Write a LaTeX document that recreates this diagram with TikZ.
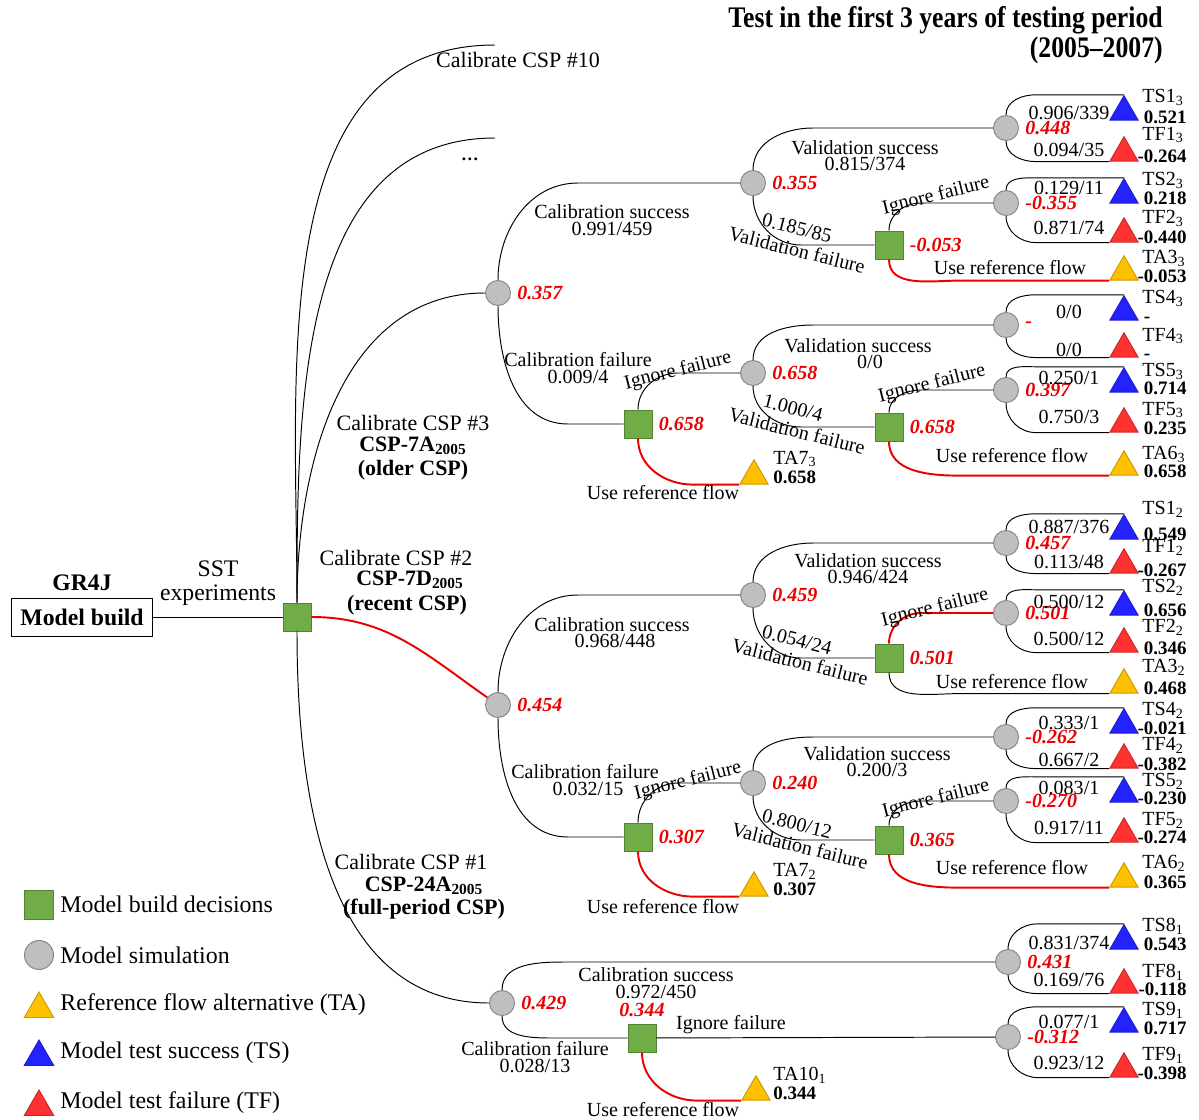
\documentclass[tikz,border=0pt]{standalone}
\usepackage{fontspec}
\setmainfont{Liberation Serif}
\usepackage{tikz}
\usetikzlibrary{positioning, calc, shapes.geometric}
\definecolor{boxgreen}{RGB}{112,173,71}
\definecolor{simgray}{RGB}{191,191,191}
\definecolor{triyellow}{RGB}{255,192,0}
\definecolor{triblue}{RGB}{35,35,255}
\definecolor{trired}{RGB}{255,50,50}
\definecolor{valred}{RGB}{235,0,0}

\begin{document}
\begin{tikzpicture}[x=0.2mm, y=-0.2mm, line width=0.55pt, font=\fontsize{11.4}{13}\selectfont,
		dec/.style={rectangle, draw=boxgreen!75!black, fill=boxgreen, minimum size=5.6mm, inner sep=0pt},
		sim/.style={circle, draw=simgray!70!black, fill=simgray, minimum size=5mm, inner sep=0pt},
		leaf/.style={regular polygon, regular polygon sides=3, minimum size=6.5mm, inner sep=0pt, draw=#1!80!black, fill=#1},
		val/.style={text=valred, font=\fontsize{11.4}{13}\selectfont\bfseries\itshape},
		res/.style={inner sep=0pt, font=\fontsize{10.8}{12}\selectfont\bfseries},
		csp/.style={font=\fontsize{12.5}{14}\selectfont},
		cspb/.style={font=\fontsize{12.5}{14}\selectfont\bfseries},
		redline/.style={draw=valred, line width=1.1pt}]
	\useasboundingbox (0,0) rectangle (1199,1120);
	% Titel
	\node[anchor=east, font=\fontsize{17}{19}\selectfont\bfseries] (title1) at (1169,20) {\scalebox{0.86}[1]{Test in the first 3 years of testing period}};
	\node[anchor=east, font=\fontsize{17}{19}\selectfont\bfseries] (title2) at (1169,50) {\scalebox{0.86}[1]{(2005--2007)}};
	% Wurzel
	\node[draw, minimum width=28.2mm, minimum height=7.6mm, font=\fontsize{13.5}{15}\selectfont\bfseries] (mb) at (82,617) {Model build};
	\node[font=\fontsize{13.5}{15}\selectfont\bfseries] (gr) at (82,583) {GR4J};
	\node[align=center, font=\fontsize{13.5}{13.7}\selectfont] (sst) at (218,583) {SST\\experiments};
	\node[dec] (r0) at (297,617) {};
	\coordinate (csp10) at (495,45);
	\coordinate (cspn) at (495,138);
	\node[csp] (l10) at (518,60) {Calibrate CSP \#10};
	\node[font=\bfseries] (ldots) at (470,159) {\ldots};
	\node[csp] (l3a) at (413,423) {Calibrate CSP \#3};
	\node[cspb] (l3b) at (413,446) {CSP-7A\textsubscript{2005}};
	\node[cspb] (l3c) at (413,470) {(older CSP)};
	\node[csp] (l2a) at (396,558) {Calibrate CSP \#2};
	\node[cspb] (l2b) at (410,580) {CSP-7D\textsubscript{2005}};
	\node[cspb] (l2c) at (407,605) {(recent CSP)};
	\node[csp] (l1a) at (411,862) {Calibrate CSP \#1};
	\node[cspb] (l1b) at (424,886) {CSP-24A\textsubscript{2005}};
	\node[cspb] (l1c) at (424,909) {(full-period CSP)};
	% Knoten CSP #3
	\node[sim] (ca0) at (498,293) {};
	\node[sim] (ca1) at (753,183) {};
	\node[dec] (sa1) at (638,424) {};
	\node[sim] (ca2) at (1006,128) {};
	\node[dec] (sa2) at (889,245) {};
	\node[sim] (ca3) at (1006,203) {};
	\node[sim] (ca4) at (753,373) {};
	\node[sim] (ca5) at (1006,325) {};
	\node[dec] (sa3) at (889,427) {};
	\node[sim] (ca6) at (1006,390) {};
	% Knoten CSP #2
	\node[sim] (cb0) at (498,705) {};
	\node[sim] (cb1) at (753,595) {};
	\node[dec] (sb1) at (638,837) {};
	\node[sim] (cb2) at (1006,543) {};
	\node[dec] (sb2) at (889,658) {};
	\node[sim] (cb3) at (1006,613) {};
	\node[sim] (cb4) at (753,783) {};
	\node[sim] (cb5) at (1006,737) {};
	\node[dec] (sb3) at (889,840) {};
	\node[sim] (cb6) at (1006,801) {};
	% Knoten CSP #1
	\node[sim] (cc0) at (502,1003) {};
	\node[sim] (cc1) at (1008,962) {};
	\node[dec] (sc1) at (642,1038) {};
	\node[sim] (cc2) at (1008,1037) {};
	% Werte
	\foreach \nm/\res in {ca0/0.357, ca1/0.355, sa1/0.658, ca2/0.448, sa2/-0.053, ca3/-0.355, ca4/0.658, ca5/-, sa3/0.658, ca6/0.397,
			cb0/0.454, cb1/0.459, sb1/0.307, cb2/0.457, sb2/0.501, cb3/0.501, cb4/0.240, cb5/-0.262, sb3/0.365, cb6/-0.270,
			cc0/0.429, cc1/0.431, cc2/-0.312}
		\node[val, right=0pt of \nm] (\nm-v) {\res};
	\node[val, above=0pt of sc1] (sc1-v) {0.344};
	% Endknoten
	\foreach \nm/\y/\ny/\vy/\col/\txt/\res in {
			ts13/108/97/117/triblue/TS1\textsubscript{3}/0.521,
			tf13/149/135/156/trired/TF1\textsubscript{3}/-0.264,
			ts23/191/180/198/triblue/TS2\textsubscript{3}/0.218,
			tf23/230/218/237/trired/TF2\textsubscript{3}/-0.440,
			ta33/268/258/276/triyellow/TA3\textsubscript{3}/-0.053,
			ts43/308/298/316/triblue/TS4\textsubscript{3}/{\rlap{-}\phantom{0.000}},
			tf43/345/336/353/trired/TF4\textsubscript{3}/{\rlap{-}\phantom{0.000}},
			ts53/380/371/388/triblue/TS5\textsubscript{3}/0.714,
			tf53/420/410/428/trired/TF5\textsubscript{3}/0.235,
			ta63/463/454/471/triyellow/TA6\textsubscript{3}/0.658,
			ts12/527/509/534/triblue/TS1\textsubscript{2}/0.549,
			tf12/561/547/570/trired/TF1\textsubscript{2}/-0.267,
			ts22/603/587/610/triblue/TS2\textsubscript{2}/0.656,
			tf22/640/627/648/trired/TF2\textsubscript{2}/0.346,
			ta32/681/667/688/triyellow/TA3\textsubscript{2}/0.468,
			ts42/721/710/728/triblue/TS4\textsubscript{2}/-0.021,
			tf42/756/745/764/trired/TF4\textsubscript{2}/-0.382,
			ts52/790/781/798/triblue/TS5\textsubscript{2}/-0.230,
			tf52/830/820/837/trired/TF5\textsubscript{2}/-0.274,
			ta62/875/863/882/triyellow/TA6\textsubscript{2}/0.365,
			ts81/937/926/944/triblue/TS8\textsubscript{1}/0.543,
			tf81/981/972/989/trired/TF8\textsubscript{1}/-0.118,
			ts91/1020/1010/1028/triblue/TS9\textsubscript{1}/0.717,
			tf91/1065/1055/1073/trired/TF9\textsubscript{1}/-0.398}
	{
		\node[leaf=\col] (\nm) at (1124,\y+4) {};
		\node[anchor=west, inner sep=0pt] (\nm-t) at (1142,\ny) {\txt};
		\node[res, anchor=east] (\nm-v) at (1187,\vy) {\res};
	}
	\foreach \nm/\x/\y/\txt/\res in {ta73/754/472/TA7\textsubscript{3}/0.658, ta72/754/884/TA7\textsubscript{2}/0.307, ta101/756/1088/TA10\textsubscript{1}/0.344}
	{
		\node[leaf=triyellow] (\nm) at (\x,\y+4) {};
		\node[anchor=west, inner sep=0pt] (\nm-t) at (773,\y-13) {\txt};
		\node[res, anchor=west] (\nm-v) at (773,\y+5) {\res};
	}
	% Verbindungen Wurzel
	\draw (mb) -- (r0);
	\draw (r0) to[out=90,in=180] (csp10);
	\draw (r0) to[out=90,in=180] (cspn);
	\draw (r0) to[out=90,in=180] (ca0);
	\draw[redline] (r0) to[out=0,in=145] (cb0);
	\draw (r0) to[out=-90,in=180] (cc0);
	% Verbindungen CSP #3
	\draw (ca0) to[out=90,in=180] ($(ca0 |- ca1)+(80,0)$) -- (ca1);
	\draw (ca0) to[out=-90,in=180] ($(ca0 |- sa1)+(70,0)$) -- (sa1);
	\draw (ca1) to[out=90,in=180] ($(ca1 |- ca2)+(60,0)$) -- (ca2);
	\draw (ca1) to[out=-90,in=180] ($(ca1 |- sa2)+(48,0)$) -- (sa2);
	\draw (sa2) to[out=90,in=180] ($(sa2 |- ca3)+(32,0)$) -- (ca3);
	\draw[redline] (sa2) to[out=-90,in=180] ($(sa2 |- ta33.corner 2)+(70,0)$) -- (ta33.corner 2);
	\draw (sa1) to[out=90,in=180] ($(sa1 |- ca4)+(40,0)$) -- (ca4);
	\draw[redline] (sa1) to[out=-90,in=180] ($(sa1 |- ta73.corner 2)+(55,0)$) -- (ta73.corner 2);
	\draw (ca4) to[out=90,in=180] ($(ca4 |- ca5)+(60,0)$) -- (ca5);
	\draw (ca4) to[out=-90,in=180] ($(ca4 |- sa3)+(48,0)$) -- (sa3);
	\draw (sa3) to[out=90,in=180] ($(sa3 |- ca6)+(32,0)$) -- (ca6);
	\draw[redline] (sa3) to[out=-90,in=180] ($(sa3 |- ta63.corner 2)+(70,0)$) -- (ta63.corner 2);
	% Verbindungen CSP #2
	\draw (cb0) to[out=90,in=180] ($(cb0 |- cb1)+(80,0)$) -- (cb1);
	\draw (cb0) to[out=-90,in=180] ($(cb0 |- sb1)+(70,0)$) -- (sb1);
	\draw (cb1) to[out=90,in=180] ($(cb1 |- cb2)+(60,0)$) -- (cb2);
	\draw (cb1) to[out=-90,in=180] ($(cb1 |- sb2)+(48,0)$) -- (sb2);
	\draw[redline] (sb2) to[out=90,in=180] ($(sb2 |- cb3)+(32,0)$) -- (cb3);
	\draw (sb2) to[out=-90,in=180] ($(sb2 |- ta32.corner 2)+(70,0)$) -- (ta32.corner 2);
	\draw (sb1) to[out=90,in=180] ($(sb1 |- cb4)+(40,0)$) -- (cb4);
	\draw[redline] (sb1) to[out=-90,in=180] ($(sb1 |- ta72.corner 2)+(55,0)$) -- (ta72.corner 2);
	\draw (cb4) to[out=90,in=180] ($(cb4 |- cb5)+(60,0)$) -- (cb5);
	\draw (cb4) to[out=-90,in=180] ($(cb4 |- sb3)+(48,0)$) -- (sb3);
	\draw (sb3) to[out=90,in=180] ($(sb3 |- cb6)+(32,0)$) -- (cb6);
	\draw[redline] (sb3) to[out=-90,in=180] ($(sb3 |- ta62.corner 2)+(70,0)$) -- (ta62.corner 2);
	% Verbindungen CSP #1
	\draw (cc0) to[out=90,in=180] ($(cc0 |- cc1)+(62,0)$) -- (cc1);
	\draw (cc0) to[out=-90,in=180] ($(cc0 |- sc1)+(50,0)$) -- (sc1);
	\draw (sc1) -- (cc2);
	\draw[redline] (sc1) to[out=-90,in=180] ($(sc1 |- ta101.corner 2)+(55,0)$) -- (ta101.corner 2);
	% Verbindungen zu den Tests
	\foreach \a/\b in {ca2/ts13, ca3/ts23, ca5/ts43, ca6/ts53, cb2/ts12, cb3/ts22, cb5/ts42, cb6/ts52, cc1/ts81, cc2/ts91}
		\draw (\a) to[out=90,in=180] ($(\a |- \b.corner 1)+(30,0)$) -- (\b.corner 1);
	\foreach \a/\b in {ca2/tf13, ca3/tf23, ca5/tf43, ca6/tf53, cb2/tf12, cb3/tf22, cb5/tf42, cb6/tf52, cc1/tf81, cc2/tf91}
		\draw (\a) to[out=-90,in=180] ($(\a |- \b.corner 2)+(30,0)$) -- (\b.corner 2);
	% Beschriftung der Kanten
	\foreach \x/\y/\rot/\txt in {
			612/212/0/Calibration success, 612/229/0/{0.991/459},
			578/360/0/Calibration failure, 578/377/0/{0.009/4},
			865/148/0/Validation success, 865/164/0/{0.815/374},
			797/228/-14/{0.185/85}, 797/250/-14/Validation failure,
			936/196/14/Ignore failure, 1010/268/0/Use reference flow,
			678/371/14/Ignore failure, 663/493/0/Use reference flow,
			858/346/0/Validation success, 870/362/0/{0/0},
			793/408/-14/{1.000/4}, 797/431/-14/Validation failure,
			932/384/14/Ignore failure, 1012/456/0/Use reference flow,
			612/625/0/Calibration success, 615/641/0/{0.968/448},
			585/772/0/Calibration failure, 588/789/0/{0.032/15},
			868/561/0/Validation success, 868/577/0/{0.946/424},
			797/640/-14/{0.054/24}, 800/662/-14/Validation failure,
			935/608/14/Ignore failure, 1012/682/0/Use reference flow,
			688/781/14/Ignore failure, 663/907/0/Use reference flow,
			877/754/0/Validation success, 877/770/0/{0.200/3},
			797/824/-14/{0.800/12}, 800/846/-14/Validation failure,
			936/799/14/Ignore failure, 1012/868/0/Use reference flow,
			656/975/0/Calibration success, 656/992/0/{0.972/450},
			535/1049/0/Calibration failure, 535/1066/0/{0.028/13},
			731/1025/0/Ignore failure, 663/1110/0/Use reference flow}
		\node[rotate=\rot, inner sep=0pt] (l\x-\y) at (\x,\y) {\txt};
	\foreach \y/\txt in {113/{0.906/339}, 150/{0.094/35}, 188/{0.129/11}, 228/{0.871/74}, 312/{0/0}, 350/{0/0}, 378/{0.250/1}, 417/{0.750/3},
			527/{0.887/376}, 562/{0.113/48}, 602/{0.500/12}, 639/{0.500/12}, 723/{0.333/1}, 760/{0.667/2}, 788/{0.083/1}, 828/{0.917/11},
			943/{0.831/374}, 980/{0.169/76}, 1022/{0.077/1}, 1063/{0.923/12}}
		\node[inner sep=0pt] (e\y) at (1069,\y) {\txt};
	% Legende
	\node[dec, minimum size=5.8mm] (k1) at (39,905) {};
	\node[sim, minimum size=5.8mm] (k2) at (39,955) {};
	\node[leaf=triyellow, minimum size=6.8mm] (k3) at (39,1009) {};
	\node[leaf=triblue, minimum size=6.8mm] (k4) at (39,1057) {};
	\node[leaf=trired, minimum size=6.8mm] (k5) at (39,1107) {};
	\foreach \k/\y/\txt in {k1/904/Model build decisions, k2/955/Model simulation, k3/1005/Reference flow alternative (TA), k4/1053/Model test success (TS), k5/1103/Model test failure (TF)}
		\node[anchor=west, inner sep=0pt, font=\fontsize{13.6}{15}\selectfont] (\k-t) at (60,\y) {\txt};
\end{tikzpicture}
\end{document}
